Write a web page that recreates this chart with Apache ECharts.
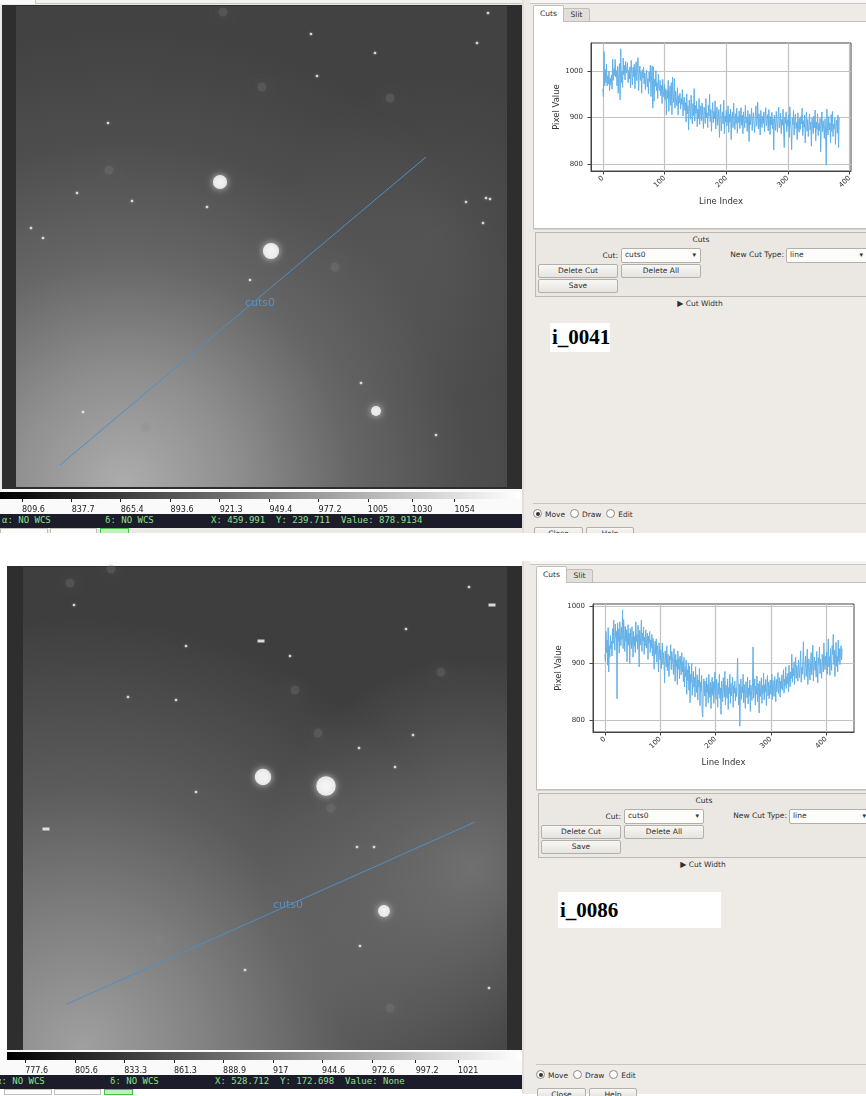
<!DOCTYPE html>
<html>
<head>
<meta charset="utf-8">
<script src="https://cdn.jsdelivr.net/npm/echarts@6/dist/echarts.min.js"></script>
<style>
body { margin: 0; width: 866px; height: 1096px; position: relative; overflow: hidden; background: #fff;
       font-family: "DejaVu Sans", sans-serif; font-size: 7.5px; color: #2e2e2e; }
.a { position: absolute; box-sizing: border-box; white-space: nowrap; }
.btn { background: linear-gradient(#f8f7f5, #e6e4e0); border: 1px solid #b3afa9; border-radius: 2px; text-align: center; line-height: 11px; }
.combo { background: #fcfcfb; border: 1px solid #b3afa9; border-radius: 2px; line-height: 12px; padding-left: 3px; }
.combo span { position: absolute; right: 4px; top: 0; font-size: 7px; }
.status { background: #1c1c2a; color: #8ee08e; font-family: "DejaVu Sans Mono", monospace; font-size: 9px; line-height: 13px; overflow: hidden; }
.status span { position: absolute; top: 0; white-space: pre; }
.radio { display: inline-block; width: 7px; height: 7px; border: 1px solid #8d8984; border-radius: 50%; background: #fff; vertical-align: -1px; margin-right: 3px; position: relative; }
.radio.on::after { content: ""; position: absolute; left: 1.5px; top: 1.5px; width: 4px; height: 4px; border-radius: 50%; background: #333; }
.tag { font-family: "Liberation Serif", "DejaVu Serif", serif; font-weight: bold; font-size: 21px; color: #000; background: #fff; }
#main { position: absolute; left: 0; top: 0; width: 866px; height: 1096px; z-index: 1; }
</style>
</head>
<body>
<div id="chrome"></div>
<div id="main"></div>
<script>
// ---- cut profiles (pixel value along the cut line) ----
const CUT1_VALUES = [
  962, 945, 1042, 968, 1003, 975, 1015, 968, 990, 972, 1000, 958, 985, 970, 992, 961, 1026, 980, 1005, 990,
  1025, 987, 1001, 968, 1010, 952, 995, 1016, 938, 1048, 975, 999, 965, 1028, 992, 1012, 981, 1021, 996, 1005,
  1018, 975, 1002, 983, 1009, 964, 1023, 995, 970, 1008, 988, 1015, 962, 997, 1020, 979, 1005, 1029, 958, 993,
  1011, 980, 999, 952, 1003, 985, 1008, 972, 996, 960, 989, 1002, 966, 984, 951, 998, 977, 1013, 945, 990,
  1011, 920, 1009, 935, 982, 967, 1001, 958, 975, 941, 993, 963, 958, 980, 947, 969, 930, 982, 955, 944,
  972, 938, 962, 905, 958, 941, 980, 913, 951, 968, 926, 975, 906, 987, 945, 932, 984, 920, 957, 939,
  925, 964, 905, 947, 931, 952, 918, 941, 928, 960, 903, 935, 944, 915, 932, 890, 951, 908, 925, 873,
  937, 913, 896, 948, 921, 886, 930, 904, 962, 892, 926, 909, 935, 880, 918, 897, 941, 885, 912, 925,
  893, 931, 904, 876, 922, 915, 887, 941, 899, 910, 878, 926, 903, 950, 891, 917, 870, 906, 932, 889,
  913, 897, 936, 875, 908, 922, 883, 900, 917, 857, 905, 928, 871, 899, 912, 886, 937, 865, 903, 890,
  915, 882, 895, 925, 868, 907, 890, 918, 852, 899, 911, 878, 931, 893, 874, 908, 887, 920, 866, 902,
  889, 914, 876, 897, 921, 883, 905, 865, 912, 894, 878, 926, 888, 901, 870, 915, 892, 848, 907, 884,
  898, 920, 872, 893, 910, 886, 867, 902, 925, 881, 896, 933, 875, 908, 889, 862, 915, 894, 878, 903,
  887, 912, 869, 899, 921, 882, 894, 906, 871, 917, 890, 863, 902, 884, 911, 876, 897, 830, 905, 888,
  872, 913, 894, 868, 900, 922, 878, 891, 909, 865, 896, 883, 918, 873, 835, 901, 887, 912, 869, 895,
  881, 906, 857, 923, 890, 874, 830, 899, 884, 915, 862, 893, 907, 876, 889, 852, 910, 883, 868, 898,
  874, 902, 886, 920, 861, 893, 879, 905, 845, 888, 912, 870, 896, 859, 884, 907, 873, 890, 838, 899,
  882, 865, 903, 878, 916, 850, 890, 874, 908, 861, 887, 872, 898, 826, 884, 912, 869, 893, 877, 855,
  897, 868, 797, 918, 880, 862, 902, 873, 888, 845, 906, 870, 913, 859, 885, 876, 899, 842, 881, 894,
  866, 905, 835, 900
];
const CUT2_VALUES = [
  915, 902, 955, 918, 940, 896, 962, 884, 930, 910, 948, 925, 938, 912, 960, 934, 975, 946, 922, 968,
  944, 955, 837, 970, 938, 959, 917, 972, 948, 930, 962, 941, 993, 925, 976, 950, 920, 964, 938, 958,
  902, 945, 967, 931, 952, 898, 960, 936, 925, 963, 940, 910, 955, 929, 946, 918, 972, 937, 950, 924,
  966, 942, 893, 957, 931, 948, 975, 920, 952, 938, 963, 915, 945, 930, 958, 926, 941, 952, 906, 947,
  935, 955, 918, 940, 927, 950, 912, 943, 930, 889, 925, 938, 915, 942, 901, 930, 920, 884, 935, 912,
  905, 923, 890, 911, 935, 897, 918, 902, 865, 921, 908, 893, 930, 886, 915, 899, 876, 912, 905, 932,
  888, 920, 910, 897, 880, 925, 901, 868, 915, 893, 905, 862, 921, 889, 908, 872, 912, 896, 879, 918,
  884, 902, 867, 910, 858, 893, 876, 905, 845, 888, 869, 900, 852, 894, 830, 880, 866, 899, 843, 871,
  885, 857, 875, 840, 893, 862, 848, 879, 835, 870, 858, 890, 825, 866, 851, 878, 812, 805, 860, 872,
  842, 868, 855, 823, 874, 848, 862, 830, 880, 851, 839, 866, 820, 858, 875, 843, 867, 829, 852, 884,
  848, 836, 871, 858, 822, 865, 845, 880, 838, 856, 810, 868, 849, 832, 874, 852, 840, 885, 826, 861,
  850, 838, 872, 818, 857, 846, 880, 829, 864, 842, 855, 875, 822, 860, 847, 868, 833, 856, 841, 870,
  908, 851, 826, 863, 789, 845, 872, 836, 858, 848, 880, 830, 862, 844, 820, 867, 853, 839, 875, 828,
  856, 843, 870, 815, 861, 849, 834, 866, 928, 838, 855, 872, 826, 859, 845, 877, 832, 864, 850, 812,
  868, 841, 857, 874, 829, 860, 846, 882, 835, 862, 849, 871, 825, 858, 878, 842, 866, 837, 855, 870,
  845, 862, 880, 836, 869, 853, 841, 876, 858, 832, 871, 849, 864, 883, 846, 860, 874, 840, 868, 855,
  879, 852, 866, 888, 847, 871, 860, 893, 855, 876, 864, 882, 849, 896, 870, 858, 884, 873, 915, 866,
  891, 877, 902, 862, 886, 910, 873, 895, 881, 868, 905, 887, 874, 899, 921, 866, 892, 880, 903, 937,
  885, 871, 898, 912, 876, 890, 924, 862, 894, 907, 883, 870, 901, 918, 879, 893, 931, 868, 896, 910,
  887, 903, 875, 920, 892, 865, 909, 897, 928, 881, 906, 890, 873, 915, 899, 884, 935, 902, 888, 912,
  896, 919, 880, 906, 942, 893, 911, 878, 925, 901, 887, 930, 915, 950, 897, 922, 876, 908, 936, 894,
  912, 884, 940, 902, 925, 897, 918, 930, 905, 925
];
const PLOT_X_TICKS = [0, 100, 200, 300, 400];
const PLOT_Y_TICKS = [800, 900, 1000];

// ---- colour bars ----
const CB1_TICKS = [809.6, 837.7, 865.4, 893.6, 921.3, 949.4, 977.2, 1005, 1030, 1054];
const CB1_RANGE = [797.2, 1091];
const CB2_TICKS = [777.6, 805.6, 833.3, 861.3, 888.9, 917, 944.6, 972.6, 997.2, 1021];
const CB2_RANGE = [767.4, 1057];

// ---- image 1 (i_0041), pixel coords from top-left of the shown image ----
const IMG1_SIZE = [491, 481];
const IMG1_CUT = [[44, 459], [410, 151]];
const IMG1_STARS = [[204, 176, 200], [255, 245, 260], [360, 405, 100]];
const IMG1_DOTS = [[461, 37], [295, 28], [301, 70], [472, 7], [15, 222], [27, 232], [450, 196], [470, 192],
  [474, 193], [467, 217], [345, 377], [359, 47], [67, 406], [92, 117], [116, 195], [191, 201], [61, 187],
  [234, 274], [420, 429]];
const IMG1_FAINT = [[93, 164], [374, 92], [319, 261], [130, 421], [246, 81], [207, 6]];

// ---- image 2 (i_0086) ----
const IMG2_SIZE = [484, 483];
const IMG2_CUT = [[44, 437], [452, 255]];
const IMG2_STARS = [[240, 210, 270], [303, 219, 380], [361, 344, 140]];
const IMG2_STREAKS = [[238, 74], [23, 262], [469, 38]];
const IMG2_DOTS = [[383, 62], [446, 20], [51, 38], [153, 133], [105, 130], [267, 89], [390, 168], [336, 181],
  [372, 200], [173, 225], [334, 280], [351, 280], [337, 379], [466, 421], [222, 403], [163, 79]];
const IMG2_FAINT = [[47, 16], [272, 123], [295, 166], [308, 241], [136, 372], [418, 105], [88, 2], [367, 441]];

// ---------------- widget chrome ----------------
function box(x, y, w, h, cls, style, text) {
  return '<div class="a ' + (cls || '') + '" style="left:' + x + 'px;top:' + y + 'px;width:' + w + 'px;height:' + h +
    'px;' + (style || '') + '">' + (text || '') + '</div>';
}

function leftChrome(oy, fx, bg, status, sx, bx) {
  let h = '';
  h += box(0, oy, 524, 533, '', 'background:' + bg);
  if (oy === 0) {
    h += box(0, 0, 522, 4, '', 'border-bottom:1px solid #c9c5c0;background:#f4f2ef');
    h += box(0, 0, 36, 4, '', 'border-right:1px solid #c9c5c0;background:#fbfaf9');
  }
  h += box(fx, oy + 5, 522 - fx, 485, '', 'background:#2e2e2e');
  h += box(0, oy + 489, 522, 26, '', 'background:#fafafa');
  let s = '';
  s += '<span style="left:' + sx[0] + 'px">α: NO WCS</span>';
  s += '<span style="left:' + sx[1] + 'px">δ: NO WCS</span>';
  s += '<span style="left:' + sx[2] + 'px">' + status + '</span>';
  h += box(0, oy + 514, 522, 14, 'status', '', s);
  h += box(bx, oy + 528, 48, 6, '', 'background:#fbfbfb;border:1px solid #c2beb9');
  h += box(bx + 50, oy + 528, 47, 6, '', 'background:#fbfbfb;border:1px solid #c2beb9');
  h += box(bx + 100, oy + 528, 29, 6, '', 'background:#bdf2bd;border:1px solid #49c049');
  return h;
}

function rightChrome(oy, rx, tag, tagBox) {
  let h = '';
  h += box(522, oy, 344, 533, '', 'background:#eeebe7;border-left:2px solid #e2dfdb');
  h += box(530, oy, 336, 4, '', 'background:#f8f6f4;border-bottom:1px solid #cbc7c2');
  h += box(533 + rx, oy + 21, 336, 208, '', 'background:#fff;border:1px solid #c2beb9');
  h += box(533 + rx, oy + 5, 31, 17, '', 'background:#fff;border:1px solid #c2beb9;border-bottom:none;border-radius:2px 2px 0 0;text-align:center;line-height:15px;z-index:2', 'Cuts');
  h += box(563 + rx, oy + 8, 27, 14, '', 'background:#e2dfdb;border:1px solid #c2beb9;border-radius:2px 2px 0 0;text-align:center;line-height:12px', 'Slit');
  h += box(533 + rx, oy + 229, 336, 3, '', 'border-top:1px solid #d6d2cd');
  // cuts group
  h += box(535 + rx, oy + 232, 334, 65, '', 'border:1px solid #bcb8b3;background:#ebe8e4');
  h += box(535 + rx, oy + 235, 332, 10, '', 'text-align:center', 'Cuts');
  h += box(560 + rx, oy + 251, 58, 10, '', 'text-align:right', 'Cut:');
  h += box(621 + rx, oy + 248, 80, 15, 'combo', '', 'cuts0<span>▾</span>');
  h += box(720 + rx, oy + 250, 64, 10, '', 'text-align:right', 'New Cut Type:');
  h += box(786 + rx, oy + 248, 82, 15, 'combo', '', 'line<span>▾</span>');
  h += box(538 + rx, oy + 264, 80, 14, 'btn', '', 'Delete Cut');
  h += box(621 + rx, oy + 264, 80, 14, 'btn', '', 'Delete All');
  h += box(538 + rx, oy + 279, 80, 14, 'btn', '', 'Save');
  h += box(640 + rx, oy + 299, 120, 10, '', 'text-align:center', '<span style="font-size:8px">▶</span> Cut Width');
  h += box(tagBox[0] + rx, oy + tagBox[1], tagBox[2], tagBox[3], 'tag', 'padding-left:2px;line-height:' + tagBox[3] + 'px', tag);
  h += box(533 + rx, oy + 300, 336, 204, '', 'border-bottom:1px solid #c9c5c0');
  h += box(533 + rx, oy + 509, 140, 10, '', 'line-height:10px',
    '<span class="radio on"></span>Move &nbsp;<span class="radio"></span>Draw &nbsp;<span class="radio"></span>Edit');
  h += box(534 + rx, oy + 527, 49, 10, 'btn', '', 'Close');
  h += box(586 + rx, oy + 527, 48, 10, 'btn', '', 'Help');
  return h;
}

let html = '';
html += leftChrome(0, 2, '#eceae7', 'X: 459.991  Y: 239.711  Value: 878.9134', [2, 105, 211], 0);
html += rightChrome(0, 0, 'i_0041', [550, 323, 60, 29]);
html += leftChrome(561, 7, '#ffffff', 'X: 528.712  Y: 172.698  Value: None', [-4, 110, 215], 4);
html += rightChrome(561, 3, 'i_0086', [555, 331, 163, 36]);
html += box(0, 533, 866, 28, '', 'background:#fff');
document.getElementById('chrome').innerHTML = html;

// ---------------- charts ----------------
const chart = echarts.init(document.getElementById('main'));

const IMG1_RECT = { left: 16, top: 6 };
const IMG2_RECT = { left: 23, top: 567 };

function imageGrid(rect, size, bg) {
  return { left: rect.left, top: rect.top, width: size[0], height: size[1], show: true, borderWidth: 0,
    backgroundColor: bg, outerBoundsMode: 'none', containLabel: false };
}

function hiddenAxes(gi, size) {
  return [
    { gridIndex: gi, type: 'value', min: 0, max: size[0], show: false },
    { gridIndex: gi, type: 'value', min: 0, max: size[1], inverse: true, show: false }
  ];
}

function imageSeries(ai, cut, stars, dots, faint, streaks) {
  const mid = [(cut[0][0] + cut[1][0]) / 2, (cut[0][1] + cut[1][1]) / 2];
  const s = [
    { type: 'scatter', xAxisIndex: ai, yAxisIndex: ai, data: faint, symbolSize: 9, silent: true,
      itemStyle: { color: 'rgba(140,140,140,0.28)', shadowBlur: 8, shadowColor: 'rgba(140,140,140,0.6)' } },
    { type: 'scatter', xAxisIndex: ai, yAxisIndex: ai, data: dots, symbolSize: 2.6, silent: true,
      itemStyle: { color: '#f0f0f0', shadowBlur: 2, shadowColor: 'rgba(255,255,255,0.6)' } },
    { type: 'scatter', xAxisIndex: ai, yAxisIndex: ai, data: stars, silent: true,
      symbolSize: d => Math.sqrt(d[2]),
      itemStyle: { color: '#ffffff', shadowBlur: 7, shadowColor: 'rgba(255,255,255,0.85)' } },
    { type: 'line', xAxisIndex: ai, yAxisIndex: ai, data: cut, symbol: 'none', silent: true,
      lineStyle: { color: '#4f8fc5', width: 1 } },
    { type: 'scatter', xAxisIndex: ai, yAxisIndex: ai, data: [mid], symbolSize: 2, silent: true,
      itemStyle: { color: 'rgba(0,0,0,0)' },
      label: { show: true, formatter: 'cuts0', position: [3, -12], color: '#5a9bd8', fontSize: 11,
        fontFamily: 'DejaVu Sans' } }
  ];
  if (streaks) {
    s.push({ type: 'scatter', xAxisIndex: ai, yAxisIndex: ai, data: streaks, symbol: 'rect', symbolSize: [7, 3],
      silent: true, itemStyle: { color: '#ffffff' } });
  }
  return s;
}

function colorbarAxes(gi, range, ticks) {
  return [
    { gridIndex: gi, type: 'value', min: range[0], max: range[1], position: 'bottom',
      axisLine: { show: false }, splitLine: { show: false },
      axisTick: { show: true, customValues: ticks, length: 3, lineStyle: { color: '#222' } },
      axisLabel: { show: true, customValues: ticks, formatter: v => String(v), align: 'left', margin: 7,
        fontSize: 8, color: '#222', fontFamily: 'DejaVu Sans' } },
    { gridIndex: gi, type: 'value', show: false }
  ];
}

function paddedRange(lo, hi) {
  const pad = (hi - lo) * 0.05;
  return [lo - pad, hi + pad];
}

function plotAxes(gi, values) {
  const xr = paddedRange(0, values.length - 1);
  const yr = paddedRange(Math.min(...values), Math.max(...values));
  const common = {
    axisLine: { show: true, onZero: false, lineStyle: { color: '#444', width: 1 } },
    splitLine: { show: true, lineStyle: { color: '#c2c2c2', width: 1.2 } }
  };
  return [
    Object.assign({ gridIndex: gi, type: 'value', min: xr[0], max: xr[1],
      name: 'Line Index', nameLocation: 'middle', nameGap: 26,
      nameTextStyle: { fontSize: 8.5, color: '#333', fontFamily: 'DejaVu Sans' },
      axisTick: { show: true, customValues: PLOT_X_TICKS, length: 3.5, lineStyle: { color: '#444' } },
      axisLabel: { customValues: PLOT_X_TICKS, formatter: v => String(v), rotate: 45, margin: 6,
        fontSize: 7, color: '#333', fontFamily: 'DejaVu Sans' } }, common),
    Object.assign({ gridIndex: gi, type: 'value', min: yr[0], max: yr[1],
      name: 'Pixel Value', nameLocation: 'middle', nameGap: 28, nameRotate: 90,
      nameTextStyle: { fontSize: 8.5, color: '#333', fontFamily: 'DejaVu Sans' },
      axisTick: { show: true, customValues: PLOT_Y_TICKS, length: 3.5, lineStyle: { color: '#444' } },
      axisLabel: { customValues: PLOT_Y_TICKS, formatter: v => String(v), margin: 8,
        fontSize: 7, color: '#333', fontFamily: 'DejaVu Sans' } }, common)
  ];
}

function plotSeries(ai, values) {
  return { type: 'line', xAxisIndex: ai, yAxisIndex: ai, data: values.map((v, i) => [i, v]),
    symbol: 'none', silent: true, lineStyle: { color: '#62b0e8', width: 1 } };
}

const bg1 = { type: 'radial', x: 0.22, y: 1.0, r: 0.95, colorStops: [
  { offset: 0, color: '#adadad' }, { offset: 0.25, color: '#8e8e8e' }, { offset: 0.5, color: '#666666' },
  { offset: 0.75, color: '#4e4e4e' }, { offset: 1, color: '#424242' }] };
const bg2 = { type: 'radial', x: 0.12, y: 1.0, r: 0.9, colorStops: [
  { offset: 0, color: '#a0a0a0' }, { offset: 0.3, color: '#808080' }, { offset: 0.6, color: '#5c5c5c' },
  { offset: 1, color: '#3e3e3e' }] };

const xAxes = [], yAxes = [];
function addAxes(pair) { xAxes.push(pair[0]); yAxes.push(pair[1]); }
addAxes(hiddenAxes(0, IMG1_SIZE));
addAxes(colorbarAxes(1, CB1_RANGE, CB1_TICKS));
addAxes(plotAxes(2, CUT1_VALUES));
addAxes(hiddenAxes(3, IMG2_SIZE));
addAxes(colorbarAxes(4, CB2_RANGE, CB2_TICKS));
addAxes(plotAxes(5, CUT2_VALUES));

const cbGradient = { type: 'linear', x: 0, y: 0, x2: 1, y2: 0, colorStops: [
  { offset: 0, color: '#000' }, { offset: 1, color: '#fff' }] };

const option = {
  animation: false,
  grid: [
    imageGrid(IMG1_RECT, IMG1_SIZE, bg1),
    { left: 0, top: 492, width: 520, height: 7, show: true, borderWidth: 0, backgroundColor: cbGradient, outerBoundsMode: 'none' },
    { left: 591, top: 43, width: 260, height: 128, show: true, borderWidth: 1, borderColor: '#444', backgroundColor: '#fff', outerBoundsMode: 'none' },
    imageGrid(IMG2_RECT, IMG2_SIZE, bg2),
    { left: 7, top: 1052, width: 515, height: 8, show: true, borderWidth: 0, backgroundColor: cbGradient, outerBoundsMode: 'none' },
    { left: 593, top: 604, width: 261, height: 128, show: true, borderWidth: 1, borderColor: '#444', backgroundColor: '#fff', outerBoundsMode: 'none' }
  ],
  graphic: [
    { type: 'rect', silent: true, z: 0, z2: 1,
      shape: { x: IMG2_RECT.left, y: IMG2_RECT.top, width: IMG2_SIZE[0], height: IMG2_SIZE[1] },
      style: { fill: { type: 'radial', global: true, x: IMG2_RECT.left + 450, y: IMG2_RECT.top + 300, r: 210,
        colorStops: [{ offset: 0, color: 'rgba(145,145,145,0.6)' }, { offset: 1, color: 'rgba(145,145,145,0)' }] } } },
    { type: 'rect', silent: true, z: 0, z2: 1,
      shape: { x: IMG1_RECT.left, y: IMG1_RECT.top, width: IMG1_SIZE[0], height: IMG1_SIZE[1] },
      style: { fill: { type: 'radial', global: true, x: IMG1_RECT.left + 420, y: IMG1_RECT.top + 230, r: 160,
        colorStops: [{ offset: 0, color: 'rgba(120,120,120,0.25)' }, { offset: 1, color: 'rgba(120,120,120,0)' }] } } }
  ],
  xAxis: xAxes,
  yAxis: yAxes,
  series: [].concat(
    imageSeries(0, IMG1_CUT, IMG1_STARS, IMG1_DOTS, IMG1_FAINT, null),
    [plotSeries(2, CUT1_VALUES)],
    imageSeries(3, IMG2_CUT, IMG2_STARS, IMG2_DOTS, IMG2_FAINT, IMG2_STREAKS),
    [plotSeries(5, CUT2_VALUES)]
  )
};
chart.setOption(option);
</script>
</body>
</html>
